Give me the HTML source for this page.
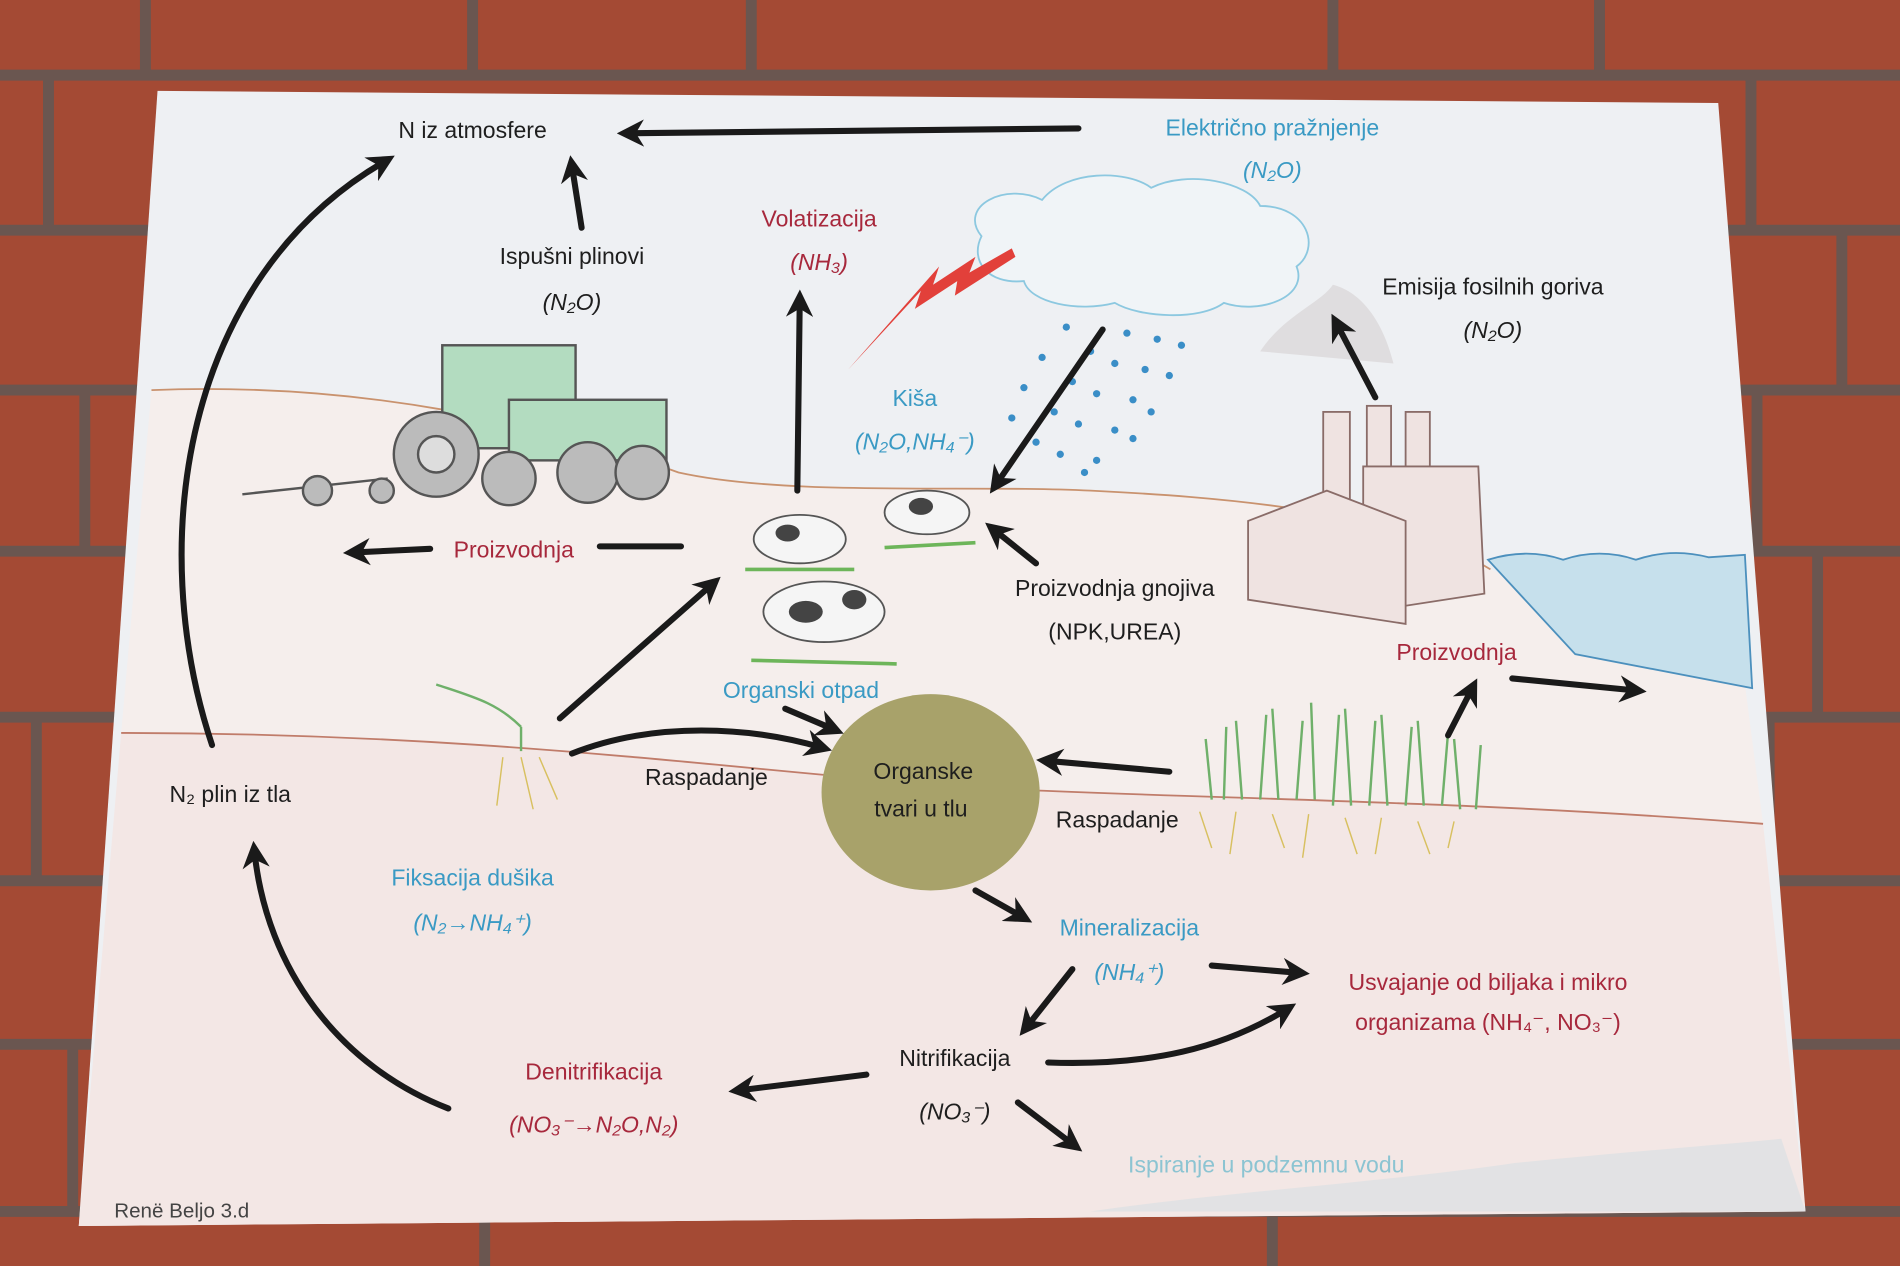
<!DOCTYPE html>
<html><head><meta charset="utf-8"><style>
html,body{margin:0;padding:0;background:#9b4532;}
svg{display:block}
text{font-family:"Liberation Sans",sans-serif;}
</style></head><body>
<svg width="1900" height="1266" viewBox="0 0 1568 1045" preserveAspectRatio="none" xmlns="http://www.w3.org/2000/svg">
<defs>
<marker id="ah" viewBox="0 0 10 10" refX="6" refY="5" markerWidth="4.5" markerHeight="4.5" orient="auto"><path d="M0,0 L10,5 L0,10 L3,5 z" fill="#1a1a1a"/></marker>
</defs>
<rect width="1568" height="1045" fill="#a44a34"/>
<g stroke="#6a5650" stroke-width="9">
<line x1="0" y1="62" x2="1568" y2="62"/><line x1="0" y1="190" x2="1568" y2="190"/>
<line x1="0" y1="322" x2="1568" y2="322"/><line x1="0" y1="455" x2="1568" y2="455"/>
<line x1="0" y1="592" x2="1568" y2="592"/><line x1="0" y1="727" x2="1568" y2="727"/>
<line x1="0" y1="862" x2="1568" y2="862"/><line x1="0" y1="1000" x2="1568" y2="1000"/>
<line x1="120" y1="0" x2="120" y2="62"/><line x1="390" y1="0" x2="390" y2="62"/><line x1="620" y1="0" x2="620" y2="62"/><line x1="1100" y1="0" x2="1100" y2="62"/><line x1="1320" y1="0" x2="1320" y2="62"/>
<line x1="1445" y1="62" x2="1445" y2="190"/><line x1="1520" y1="190" x2="1520" y2="322"/><line x1="1450" y1="322" x2="1450" y2="455"/><line x1="1500" y1="455" x2="1500" y2="592"/><line x1="1460" y1="592" x2="1460" y2="727"/>
<line x1="40" y1="62" x2="40" y2="190"/><line x1="70" y1="322" x2="70" y2="455"/><line x1="30" y1="592" x2="30" y2="727"/><line x1="60" y1="862" x2="60" y2="1000"/>
<line x1="400" y1="1000" x2="400" y2="1045"/><line x1="1050" y1="1000" x2="1050" y2="1045"/>
</g>
<polygon points="130,75 1418,85 1490,1000 65,1012" fill="#eef0f3"/>
<path d="M125,322 C300,315 450,350 560,390 C650,410 800,400 900,405 C1000,410 1150,420 1230,470 L1440,565 L1455,680 C1200,660 1000,660 800,650 C600,635 400,605 100,605 Z" fill="#f5eeec"/>
<path d="M100,605 C400,605 600,635 800,650 C1000,660 1200,660 1455,680 L1490,1000 L65,1012 Z" fill="#f3e7e5"/>
<path d="M125,322 C300,315 450,350 560,390 C650,410 800,400 900,405 C1000,410 1150,420 1230,470" fill="none" stroke="#c9926e" stroke-width="1.5"/>
<path d="M100,605 C400,605 600,635 800,650 C1000,660 1200,660 1455,680" fill="none" stroke="#c07c6a" stroke-width="1.5"/>
<path d="M1228,462 Q1260,452 1290,462 Q1320,452 1350,462 Q1380,452 1410,460 L1440,458 L1446,568 L1300,540 Z" fill="#c6e0ec" stroke="#4c90bd" stroke-width="1.5"/>
<path d="M900,1000 C1000,985 1150,975 1250,960 C1350,950 1420,945 1470,940 L1490,1000 Z" fill="#dde1e3" opacity="0.8"/>
<path d="M810,195 C790,170 830,150 860,165 C880,140 930,140 950,155 C980,140 1030,150 1040,170 C1080,170 1090,205 1070,220 C1080,245 1040,260 1010,250 C990,265 940,262 920,250 C890,258 850,250 845,232 C815,235 800,215 810,195 Z" fill="#f0f4f7" stroke="#8cc8e0" stroke-width="1.5"/>
<polygon points="835,205 800,225 805,212 770,235 775,220 700,305 760,240 755,255 790,232 788,244 838,212" fill="#e2403a"/>
<g fill="#3a8ec7">
<circle cx="880" cy="270" r="3"/><circle cx="860" cy="295" r="3"/><circle cx="845" cy="320" r="3"/><circle cx="835" cy="345" r="3"/><circle cx="900" cy="290" r="3"/><circle cx="885" cy="315" r="3"/><circle cx="870" cy="340" r="3"/><circle cx="855" cy="365" r="3"/><circle cx="930" cy="275" r="3"/><circle cx="920" cy="300" r="3"/><circle cx="905" cy="325" r="3"/><circle cx="890" cy="350" r="3"/><circle cx="875" cy="375" r="3"/><circle cx="955" cy="280" r="3"/><circle cx="945" cy="305" r="3"/><circle cx="935" cy="330" r="3"/><circle cx="920" cy="355" r="3"/><circle cx="905" cy="380" r="3"/><circle cx="975" cy="285" r="3"/><circle cx="965" cy="310" r="3"/><circle cx="950" cy="340" r="3"/><circle cx="935" cy="362" r="3"/><circle cx="895" cy="390" r="3"/>
</g>
<g stroke="#8a6c68" stroke-width="1.5" fill="#efe3e1">
<path d="M1040,290 C1060,260 1090,250 1100,235 C1120,240 1140,260 1150,300" fill="#d8d4d6" stroke="none" opacity="0.7"/>
<rect x="1092" y="340" width="22" height="80"/><rect x="1128" y="335" width="20" height="85"/><rect x="1160" y="340" width="20" height="80"/>
<polygon points="1125,385 1220,385 1225,490 1160,500 1125,495"/>
<polygon points="1030,430 1095,405 1160,430 1160,515 1030,495"/>
</g>
<g stroke="#555" stroke-width="2">
<rect x="365" y="285" width="110" height="85" fill="#b3dcc0"/>
<rect x="420" y="330" width="130" height="50" fill="#b3dcc0"/>
<circle cx="360" cy="375" r="35" fill="#bbb"/><circle cx="360" cy="375" r="15" fill="#ddd"/>
<circle cx="485" cy="390" r="25" fill="#bbb"/><circle cx="530" cy="390" r="22" fill="#bbb"/><circle cx="420" cy="395" r="22" fill="#bbb"/>
<line x1="200" y1="408" x2="320" y2="395"/><circle cx="262" cy="405" r="12" fill="#bbb"/><circle cx="315" cy="405" r="10" fill="#bbb"/>
</g>
<g fill="#f5f5f5" stroke="#555" stroke-width="1.5">
<ellipse cx="660" cy="445" rx="38" ry="20"/><ellipse cx="765" cy="423" rx="35" ry="18"/><ellipse cx="680" cy="505" rx="50" ry="25"/>
</g>
<g fill="#444"><ellipse cx="650" cy="440" rx="10" ry="7"/><ellipse cx="760" cy="418" rx="10" ry="7"/><ellipse cx="665" cy="505" rx="14" ry="9"/><ellipse cx="705" cy="495" rx="10" ry="8"/></g>
<g stroke="#6db55a" stroke-width="3"><line x1="615" y1="470" x2="705" y2="470"/><line x1="730" y1="452" x2="805" y2="448"/><line x1="620" y1="545" x2="740" y2="548"/></g>
<g stroke="#6fb06a" stroke-width="2" fill="none">
<path d="M1000,660 L995,610 M1010,660 L1012,600 M1025,660 L1020,595 M1040,660 L1045,590 M1055,660 L1050,585 M1070,660 L1075,595 M1085,660 L1082,580 M1100,665 L1105,590 M1115,665 L1110,585 M1130,665 L1135,595 M1145,665 L1140,590 M1160,665 L1165,600 M1175,665 L1170,595 M1190,665 L1195,605 M1205,668 L1200,610 M1218,668 L1222,615"/>
<path d="M430,600 L430,620 M430,600 C410,580 390,575 360,565"/>
</g>
<g stroke="#d8c060" stroke-width="1.2" fill="none"><path d="M990,670 L1000,700 M1020,670 L1015,705 M1050,672 L1060,700 M1080,672 L1075,708 M1110,675 L1120,705 M1140,675 L1135,705 M1170,678 L1180,705 M1200,678 L1195,700 M415,625 L410,665 M430,625 L440,668 M445,625 L460,660"/></g>
<ellipse cx="768" cy="654" rx="90" ry="81" fill="#a8a26a"/>
<g stroke="#1a1a1a" stroke-width="5" fill="none" stroke-linecap="round" marker-end="url(#ah)">
<path d="M890,106 L518,110"/>
<path d="M480,188 L472,137"/>
<path d="M175,615 C120,450 150,230 318,133"/>
<path d="M658,405 L660,248"/>
<path d="M910,272 L822,400"/>
<path d="M855,465 L820,437"/>
<path d="M1135,328 L1103,267"/>
<path d="M355,453 L292,456"/>
<path d="M462,593 L588,482"/>
<path d="M472,622 C540,595 620,600 678,617"/>
<path d="M648,585 L688,602"/>
<path d="M965,637 L864,628"/>
<path d="M1195,607 L1215,568"/>
<path d="M1248,560 L1350,570"/>
<path d="M805,735 L844,757"/>
<path d="M885,800 L847,848"/>
<path d="M1000,797 L1072,803"/>
<path d="M865,877 C950,880 1010,865 1062,833"/>
<path d="M715,887 L610,900"/>
<path d="M840,910 L886,945"/>
<path d="M370,915 C280,880 220,800 210,703"/>
</g>
<line x1="495" y1="451" x2="562" y2="451" stroke="#1a1a1a" stroke-width="5" stroke-linecap="round"/>
<g font-size="19" text-anchor="middle" fill="#1e1e1e">
<text x="390" y="114">N iz atmosfere</text>
<text x="472" y="218">Ispušni plinovi</text>
<text x="472" y="256" font-style="italic">(N₂O)</text>
<text x="1232" y="243">Emisija fosilnih goriva</text>
<text x="1232" y="279" font-style="italic">(N₂O)</text>
<text x="920" y="492">Proizvodnja gnojiva</text>
<text x="920" y="528">(NPK,UREA)</text>
<text x="583" y="648">Raspadanje</text>
<text x="762" y="643">Organske</text>
<text x="760" y="674">tvari u tlu</text>
<text x="922" y="683">Raspadanje</text>
<text x="190" y="662">N₂ plin iz tla</text>
<text x="788" y="880">Nitrifikacija</text>
<text x="788" y="924" font-style="italic">(NO₃⁻)</text>
<text x="150" y="1005" font-size="17" fill="#444">Renë Beljo 3.d</text>
</g>
<g font-size="19" text-anchor="middle" fill="#a7283c">
<text x="676" y="187">Volatizacija</text>
<text x="676" y="223" font-style="italic">(NH₃)</text>
<text x="424" y="460">Proizvodnja</text>
<text x="1202" y="545">Proizvodnja</text>
<text x="1228" y="817">Usvajanje od biljaka i mikro</text>
<text x="1228" y="850">organizama (NH₄⁻, NO₃⁻)</text>
<text x="490" y="891">Denitrifikacija</text>
<text x="490" y="935" font-style="italic">(NO₃⁻→N₂O,N₂)</text>
</g>
<g font-size="19" text-anchor="middle" fill="#3a9ac4">
<text x="1050" y="112">Električno pražnjenje</text>
<text x="1050" y="147" font-style="italic">(N₂O)</text>
<text x="755" y="335">Kiša</text>
<text x="755" y="371" font-style="italic">(N₂O,NH₄⁻)</text>
<text x="661" y="576">Organski otpad</text>
<text x="390" y="731">Fiksacija dušika</text>
<text x="390" y="768" font-style="italic">(N₂→NH₄⁺)</text>
<text x="932" y="772">Mineralizacija</text>
<text x="932" y="809" font-style="italic">(NH₄⁺)</text>
<text x="1045" y="968" fill="#8cc4d2">Ispiranje u podzemnu vodu</text>
</g>
</svg>
</body></html>
